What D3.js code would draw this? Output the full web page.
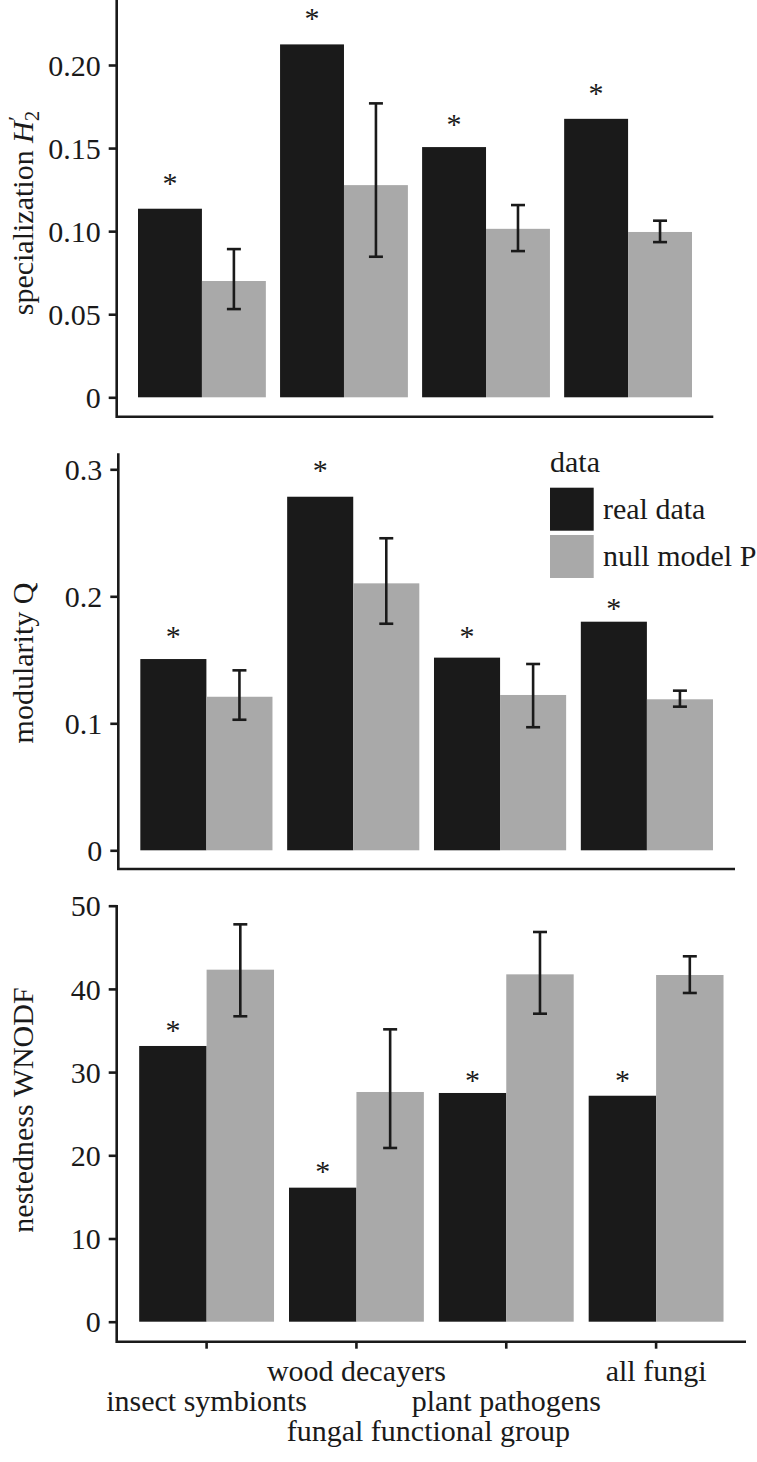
<!DOCTYPE html>
<html>
<head>
<meta charset="utf-8">
<script src="https://cdn.jsdelivr.net/npm/d3@7"></script>
<style>
  body { margin: 0; background: #fff; }
  text { font-family: "Liberation Serif", "Times New Roman", serif; fill: #1a1a1a; }
</style>
</head>
<body>
<div id="vis"></div>
<script>
// groups on the x axis, and the two series (legend)
const groups = ["insect symbionts", "wood decayers", "plant pathogens", "all fungi"];
const series = ["real data", "null model P"];

// specialization H2'
const h2Real = [0.1135, 0.2124, 0.1506, 0.1676];
const h2Null = [0.0700, 0.1277, 0.1014, 0.0995];
const h2NullLo = [0.0531, 0.0846, 0.0880, 0.0934];
const h2NullHi = [0.0892, 0.1769, 0.1157, 0.1063];
const h2Star = [0.1307, 0.2300, 0.1664, 0.1849];
const h2Ticks = [0, 0.05, 0.10, 0.15, 0.20];

// modularity Q
const qReal = [0.1506, 0.2784, 0.1517, 0.1800];
const qNull = [0.1209, 0.2102, 0.1223, 0.1189];
const qNullLo = [0.1028, 0.1784, 0.0969, 0.1131];
const qNullHi = [0.1417, 0.2457, 0.1467, 0.1257];
const qStar = [0.1713, 0.3016, 0.1713, 0.1931];
const qTicks = [0, 0.1, 0.2, 0.3];

// nestedness WNODF
const wReal = [33.14, 16.11, 27.49, 27.16];
const wNull = [42.31, 27.61, 41.75, 41.67];
const wNullLo = [36.71, 20.88, 37.02, 39.51];
const wNullHi = [47.76, 35.14, 46.84, 43.92];
const wStar = [35.46, 18.44, 29.45, 29.45];
const wTicks = [0, 10, 20, 30, 40, 50];

const W = 757, H = 1462;
const colors = {"real data": "#1a1a1a", "null model P": "#a9a9a9"};
const ink = "#1a1a1a";

const svg = d3.select("#vis").append("svg")
  .attr("width", W).attr("height", H);
svg.append("rect").attr("width", W).attr("height", H).attr("fill", "#fff");

// layout of each panel (pixels)
const panels = [
  {real: h2Real, nul: h2Null, lo: h2NullLo, hi: h2NullHi, star: h2Star, ticks: h2Ticks,
   max: 0.2, fmt: d => d === 0 ? "0" : d3.format(".2f")(d),
   left: 116.7, right: 713.3, top: 0, bottom: 416.7, y0: 397.3, yMax: 65, titleY: 213},
  {real: qReal, nul: qNull, lo: qNullLo, hi: qNullHi, star: qStar, ticks: qTicks,
   max: 0.3, fmt: d => d === 0 ? "0" : d3.format(".1f")(d),
   left: 118.3, right: 735, top: 453.3, bottom: 869, y0: 850.3, yMax: 469.3, titleY: 663},
  {real: wReal, nul: wNull, lo: wNullLo, hi: wNullHi, star: wStar, ticks: wTicks,
   max: 50, fmt: d3.format("d"),
   left: 116.7, right: 746, top: 905, bottom: 1341.7, y0: 1321.7, yMax: 905.7, titleY: 1110}
];

panels.forEach((p, i) => {
  const g = svg.append("g");

  const x = d3.scaleBand().domain(groups).range([p.left, p.right])
    .paddingInner(0.1).paddingOuter(0.15);
  const xs = d3.scaleBand().domain(series).range([0, x.bandwidth()]);
  const y = d3.scaleLinear().domain([0, p.max]).range([p.y0, p.yMax]);

  const rows = groups.map((grp, j) => ({
    grp: grp, real: p.real[j], nul: p.nul[j], lo: p.lo[j], hi: p.hi[j], star: p.star[j]
  }));

  // bars
  const bar = g.selectAll("g.grp").data(rows).enter().append("g")
    .attr("transform", d => `translate(${x(d.grp)},0)`);
  bar.selectAll("rect")
    .data(d => series.map(s => ({s: s, v: s === "real data" ? d.real : d.nul})))
    .enter().append("rect")
    .attr("x", d => xs(d.s))
    .attr("width", xs.bandwidth())
    .attr("y", d => y(d.v))
    .attr("height", d => y(0) - y(d.v))
    .attr("fill", d => colors[d.s]);

  // error bars on null model
  const cap = 7;
  const eb = bar.append("g").attr("stroke", ink).attr("stroke-width", 2.6).attr("fill", "none");
  const cx = xs("null model P") + xs.bandwidth() / 2;
  eb.append("line").attr("x1", cx).attr("x2", cx)
    .attr("y1", d => y(d.lo)).attr("y2", d => y(d.hi));
  eb.append("line").attr("x1", cx - cap).attr("x2", cx + cap)
    .attr("y1", d => y(d.lo)).attr("y2", d => y(d.lo));
  eb.append("line").attr("x1", cx - cap).attr("x2", cx + cap)
    .attr("y1", d => y(d.hi)).attr("y2", d => y(d.hi));

  // significance stars
  bar.append("text")
    .attr("x", xs("real data") + xs.bandwidth() / 2)
    .attr("y", d => y(d.star) + 13)
    .attr("text-anchor", "middle")
    .style("font-size", "30px")
    .text("*");

  // y axis
  const yAxis = d3.axisLeft(y).tickValues(p.ticks).tickFormat(p.fmt)
    .tickSize(8).tickPadding(8);
  const ya = g.append("g").attr("transform", `translate(${p.left},0)`).call(yAxis);
  ya.select(".domain").remove();
  ya.selectAll(".tick line").attr("stroke", ink).attr("stroke-width", 2.6);
  ya.selectAll(".tick text").style("font-size", "30px").attr("fill", ink)
    .attr("dy", "0.34em");
  ya.attr("font-family", null).attr("font-size", null);

  // axis lines
  g.append("path")
    .attr("d", `M${p.left},${p.top}V${p.bottom}H${p.right}`)
    .attr("fill", "none").attr("stroke", ink).attr("stroke-width", 2.6);

  // x ticks only on bottom panel
  if (i === 2) {
    const xAxis = d3.axisBottom(x).tickSize(7).tickFormat("");
    const xa = g.append("g").attr("transform", `translate(0,${p.bottom})`).call(xAxis);
    xa.select(".domain").remove();
    xa.selectAll(".tick line").attr("stroke", ink).attr("stroke-width", 2.6);
    groups.forEach((grp, j) => {
      g.append("text")
        .attr("x", x(grp) + x.bandwidth() / 2)
        .attr("y", j % 2 === 0 ? 1411 : 1381)
        .attr("text-anchor", "middle")
        .style("font-size", "30px")
        .text(grp);
    });
    g.append("text")
      .attr("x", (p.left + p.right) / 2 - 3)
      .attr("y", 1441)
      .attr("text-anchor", "middle")
      .style("font-size", "30px")
      .text("fungal functional group");
  }
});

// y axis titles
function yTitle(cy, build) {
  const t = svg.append("text")
    .attr("transform", `translate(33,${cy}) rotate(-90)`)
    .attr("text-anchor", "middle")
    .style("font-size", "30px");
  build(t);
}
yTitle(panels[0].titleY, t => {
  t.append("tspan").text("specialization ");
  t.append("tspan").style("font-style", "italic").text("H");
  t.append("tspan").style("font-size", "21px").attr("dy", 6).text("2");
  t.append("tspan").style("font-size", "22px").attr("dx", -10).attr("dy", -16).text("\u2032");
});
yTitle(panels[1].titleY, t => t.text("modularity Q"));
yTitle(panels[2].titleY, t => t.text("nestedness WNODF"));

// legend
const leg = svg.append("g");
leg.append("text").attr("x", 550).attr("y", 471.5).style("font-size", "30px").text("data");
const keys = leg.selectAll("g.key").data(series).enter().append("g")
  .attr("transform", (d, k) => `translate(550,${487.7 + k * 47.3})`);
keys.append("rect").attr("width", 43.7).attr("height", 43)
  .attr("fill", d => colors[d]);
keys.append("text").attr("x", 53).attr("y", 31).style("font-size", "30px").text(d => d);
</script>
</body>
</html>
